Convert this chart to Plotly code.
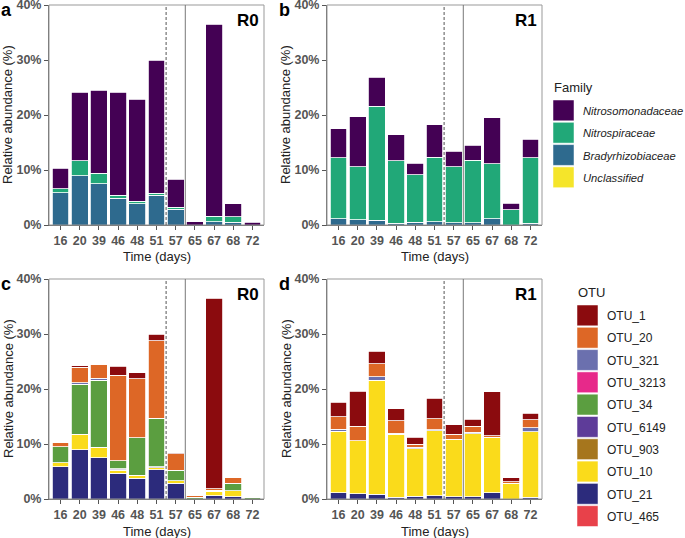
import plotly.graph_objects as go

W, H = 685, 538

days = ["16", "20", "39", "46", "48", "51", "57", "65", "67", "68", "72"]

# Family level (% relative abundance), reactor R0
r0_nitrosomonadaceae = [3.7, 12.4, 15.1, 18.7, 18.55, 24.2, 5.1, 0.55, 34.9, 2.4, 0.5]
r0_nitrospiraceae = [0.7, 2.7, 1.9, 0.5, 0.45, 0.4, 0.3, 0.0, 1.0, 1.0, 0.0]
r0_bradyrhizobiaceae = [5.9, 9.0, 7.5, 4.9, 3.9, 5.4, 2.9, 0.0, 0.6, 0.5, 0.0]
r0_unclassified = [0, 0, 0, 0, 0, 0, 0, 0, 0, 0, 0]

# Family level, reactor R1
r1_nitrosomonadaceae = [5.3, 9.1, 5.3, 4.7, 2.1, 5.9, 2.8, 2.7, 8.4, 1.2, 3.4]
r1_nitrospiraceae = [11.05, 9.6, 20.7, 11.35, 8.6, 11.7, 10.2, 11.4, 10.0, 2.8, 11.9]
r1_bradyrhizobiaceae = [1.15, 1.0, 0.9, 0.35, 0.5, 0.6, 0.4, 0.4, 1.1, 0.0, 0.3]
r1_unclassified = [0, 0, 0, 0, 0, 0, 0, 0, 0, 0, 0]

# OTU level, reactor R0
r0_otu_1 = [0, 0.2, 0, 1.6, 1.1, 1.2, 0.2, 0, 34.6, 0, 0]
r0_otu_20 = [0.8, 2.9, 2.5, 15.5, 10.8, 14.1, 3.0, 0.3, 0.3, 1.0, 0.2]
r0_otu_321 = [0, 0.2, 0.4, 0, 0, 0, 0, 0, 0, 0.1, 0]
r0_otu_3213 = [0, 0, 0, 0, 0, 0, 0, 0, 0, 0, 0]
r0_otu_34 = [2.9, 9.1, 12.2, 1.5, 6.8, 8.8, 1.9, 0.3, 0, 1.3, 0.3]
r0_otu_6149 = [0, 0, 0, 0.2, 0, 0.2, 0, 0, 0.2, 0, 0]
r0_otu_903 = [0, 0, 0, 0.1, 0, 0, 0, 0, 0, 0, 0]
r0_otu_10 = [0.7, 2.8, 1.9, 0.5, 0.5, 0.4, 0.4, 0, 0.8, 1.1, 0]
r0_otu_21 = [5.9, 9.0, 7.5, 4.7, 3.8, 5.3, 2.9, 0, 0.6, 0.4, 0]
r0_otu_465 = [0, 0, 0, 0, 0, 0, 0, 0, 0, 0, 0]

# OTU level, reactor R1
r1_otu_1 = [2.6, 6.4, 2.3, 2.2, 1.2, 3.7, 1.7, 1.3, 8.0, 0.8, 1.2]
r1_otu_20 = [2.3, 2.6, 2.4, 2.2, 0.6, 2.0, 0.9, 1.1, 0.3, 0.2, 1.4]
r1_otu_321 = [0.4, 0, 0.6, 0.2, 0.3, 0.2, 0.15, 0.2, 0, 0, 0.8]
r1_otu_3213 = [0, 0, 0, 0, 0, 0, 0, 0, 0.1, 0, 0]
r1_otu_34 = [0, 0, 0, 0, 0, 0, 0, 0, 0, 0, 0]
r1_otu_6149 = [0, 0, 0, 0, 0, 0, 0, 0, 0, 0, 0]
r1_otu_903 = [0.1, 0, 0, 0, 0, 0, 0, 0, 0, 0, 0]
r1_otu_10 = [11.1, 9.6, 20.7, 11.5, 8.6, 11.8, 10.35, 11.5, 10.0, 2.9, 11.9]
r1_otu_21 = [1.1, 1.0, 0.9, 0.3, 0.5, 0.6, 0.4, 0.4, 1.1, 0, 0.3]
r1_otu_465 = [0, 0, 0, 0, 0, 0, 0, 0, 0, 0, 0]

family_names = ["Nitrosomonadaceae", "Nitrospiraceae", "Bradyrhizobiaceae", "Unclassified"]
family_colors = ["#440154", "#21A878", "#2E6A8E", "#F5E52A"]

otu_names = ["OTU_1", "OTU_20", "OTU_321", "OTU_3213", "OTU_34",
             "OTU_6149", "OTU_903", "OTU_10", "OTU_21", "OTU_465"]
otu_colors = ["#8B0B0E", "#DD6726", "#6B70AE", "#E7298A", "#5B9E40",
              "#5E3C99", "#A6761D", "#FADB1B", "#2C2B7C", "#E8414A"]

fam_r0 = [r0_nitrosomonadaceae, r0_nitrospiraceae, r0_bradyrhizobiaceae, r0_unclassified]
fam_r1 = [r1_nitrosomonadaceae, r1_nitrospiraceae, r1_bradyrhizobiaceae, r1_unclassified]
otu_r0 = [r0_otu_1, r0_otu_20, r0_otu_321, r0_otu_3213, r0_otu_34,
          r0_otu_6149, r0_otu_903, r0_otu_10, r0_otu_21, r0_otu_465]
otu_r1 = [r1_otu_1, r1_otu_20, r1_otu_321, r1_otu_3213, r1_otu_34,
          r1_otu_6149, r1_otu_903, r1_otu_10, r1_otu_21, r1_otu_465]


def fx(px):
    return px / W


def fy(py):
    return 1 - py / H


FONT = "Liberation Sans, Arial, sans-serif"

# panel boxes in pixels: (left, right, top, bottom)
panels = [
    (49, 264, 5, 225),
    (327, 542, 5, 225),
    (49, 264, 279, 499),
    (327, 542, 279, 499),
]
panel_data = [
    (fam_r0, family_names, family_colors, "R0", "a"),
    (fam_r1, family_names, family_colors, "R1", "b"),
    (otu_r0, otu_names, otu_colors, "R0", "c"),
    (otu_r1, otu_names, otu_colors, "R1", "d"),
]

fig = go.Figure()
shapes = []
annotations = []

for i, ((l, r, t, b), (series, names, colors, reactor, letter)) in enumerate(zip(panels, panel_data)):
    n = "" if i == 0 else str(i + 1)
    xa, ya = "x" + n, "y" + n
    # stack bottom-up: last legend level sits at the bottom
    for vals, name, col in reversed(list(zip(series, names, colors))):
        fig.add_trace(go.Bar(
            x=days, y=vals, name=name, xaxis=xa, yaxis=ya,
            marker=dict(color=col, line=dict(color="white", width=0.8)),
            width=0.88, showlegend=False,
        ))
    fig.layout["xaxis" + n] = dict(
        domain=[fx(l), fx(r)], anchor=ya, type="category",
        range=[-0.6, len(days) - 0.4], automargin=False,
        showline=True, linecolor="#666", linewidth=1,
        ticks="outside", ticklen=4, tickcolor="#555",
        tickfont=dict(family=FONT, size=12.5, color="#555", weight="bold"),
        showgrid=False, zeroline=False,
    )
    fig.layout["yaxis" + n] = dict(
        domain=[fy(b), fy(t)], anchor=xa, range=[0, 40], automargin=False,
        tickvals=[0, 10, 20, 30, 40], ticktext=["0%", "10%", "20%", "30%", "40%"],
        ticklabeloverflow="allow",
        showline=True, linecolor="#666", linewidth=1,
        ticks="outside", ticklen=4, tickcolor="#555",
        tickfont=dict(family=FONT, size=12.5, color="#555", weight="bold"),
        showgrid=False, zeroline=False,
    )
    # panel border
    shapes.append(dict(type="rect", xref=xa + " domain", yref=ya + " domain",
                       x0=0, x1=1, y0=0, y1=1, line=dict(color="#999", width=1)))
    # phase change lines
    shapes.append(dict(type="line", xref=xa, yref=ya + " domain",
                       x0=days.index("57") - 0.5, x1=days.index("57") - 0.5, y0=0, y1=1,
                       line=dict(color="#555", width=1, dash="3px,2px")))
    shapes.append(dict(type="line", xref=xa, yref=ya + " domain",
                       x0=days.index("65") - 0.5, x1=days.index("65") - 0.5, y0=0, y1=1,
                       line=dict(color="#777", width=1)))
    # reactor label
    annotations.append(dict(text="<b>" + reactor + "</b>", xref="paper", yref="paper",
                            x=fx(r - 3), y=fy(t + 4), xanchor="right", yanchor="top",
                            showarrow=False, font=dict(family=FONT, size=17, color="black")))
    # panel letter
    annotations.append(dict(text="<b>" + letter + "</b>", xref="paper", yref="paper",
                            x=fx(l - 50), y=fy(t - 7), xanchor="left", yanchor="top",
                            showarrow=False, font=dict(family=FONT, size=18, color="black")))
    # axis titles
    annotations.append(dict(text="Relative abundance (%)", xref="paper", yref="paper",
                            x=fx(l - 41), y=fy((t + b) / 2), textangle=-90,
                            xanchor="center", yanchor="middle", showarrow=False,
                            font=dict(family=FONT, size=13, color="#222")))
    annotations.append(dict(text="Time (days)", xref="paper", yref="paper",
                            x=fx((l + r) / 2), y=fy(b + 32),
                            xanchor="center", yanchor="middle", showarrow=False,
                            font=dict(family=FONT, size=13, color="#222")))


# hand-drawn legends with large square keys
def draw_legend(title, names, colors, x_key, y_title, y_first, step, italic, size):
    annotations.append(dict(text=title, xref="paper", yref="paper",
                            x=fx(x_key - 1), y=fy(y_title), xanchor="left", yanchor="middle",
                            showarrow=False, font=dict(family=FONT, size=13, color="#222")))
    for k, (name, col) in enumerate(zip(names, colors)):
        top = y_first + k * step
        shapes.append(dict(type="rect", xref="paper", yref="paper",
                           x0=fx(x_key), x1=fx(x_key + 21), y0=fy(top + step - 1.5), y1=fy(top),
                           fillcolor=col, line=dict(color="white", width=0.5)))
        label = "<i>" + name + "</i>" if italic else name
        annotations.append(dict(text=label, xref="paper", yref="paper",
                                x=fx(x_key + 28), y=fy(top + step / 2), xanchor="left",
                                yanchor="middle", showarrow=False,
                                font=dict(family=FONT, size=size, color="#222")))


draw_legend("Family", family_names, family_colors, 553, 88, 100, 22.3, True, 11.2)
draw_legend("OTU", otu_names, otu_colors, 577, 292, 305, 22.3, False, 12)

fig.update_layout(
    barmode="stack",
    width=W, height=H,
    margin=dict(l=0, r=0, t=0, b=0, autoexpand=False),
    paper_bgcolor="white", plot_bgcolor="white",
    shapes=shapes, annotations=annotations,
    font=dict(family=FONT),
)

# page body has a default margin; remove it so the figure fills the window
fig.write_html("out.html", config={"displayModeBar": False},
               post_script="document.body.style.margin='0';")
